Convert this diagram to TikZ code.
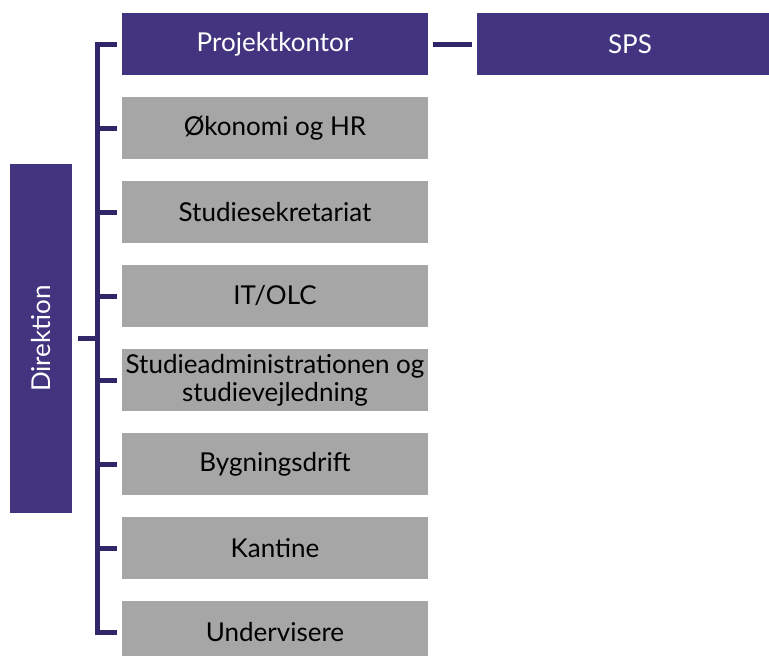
\documentclass[tikz,border=0pt]{standalone}
\usepackage{fontspec}
\setmainfont{Lato}
\definecolor{lilla}{HTML}{42347F}
\definecolor{streg}{HTML}{30266A}
\definecolor{graa}{HTML}{A6A6A6}
\begin{document}
\begin{tikzpicture}[x=1pt,y=-1pt,font=\fontsize{26}{28}\selectfont,
		boks/.style={minimum width=306pt,minimum height=62pt,inner sep=0pt,align=center},
		lillaboks/.style={boks,fill=lilla,text=white},
		graaboks/.style={boks,fill=graa,text=black},
		linje/.style={draw=streg,line width=5pt}]
	\useasboundingbox (0,0) rectangle (769,656);
	\clip (0,0) rectangle (769,656);
	\node[lillaboks] (pk) at (275,44) {Projektkontor};
	\node[lillaboks] (sps) at (630,44) {SPS};
	\node[lillaboks,rotate=90,minimum width=349pt] (dir) at (41,338.5) {Direktion};
	\foreach \i/\y/\t in {1/128/{Økonomi og HR}, 2/212/Studiesekretariat, 3/296/{IT/OLC},
		4/380/{Studieadministrationen og\\studievejledning}, 5/464/Bygningsdrift,
		6/548/Kantine, 7/632/Undervisere}{
		\node[graaboks] (b\i) at (275,\y) {\t};
	}
	\coordinate (ryg) at (97,0);
	\draw[linje] ([xshift=-5pt]pk.west) -| (ryg |- b7.west) -- ([xshift=-5pt]b7.west);
	\foreach \i in {1,...,6}{
		\draw[linje] ([xshift=-5pt]b\i.west) -- (ryg |- b\i.west);
	}
	\draw[linje] ([xshift=6pt]dir.south) -- (ryg |- dir.south);
	\draw[linje] ([xshift=5pt]pk.east) -- ([xshift=-5pt]sps.west);
\end{tikzpicture}
\end{document}
